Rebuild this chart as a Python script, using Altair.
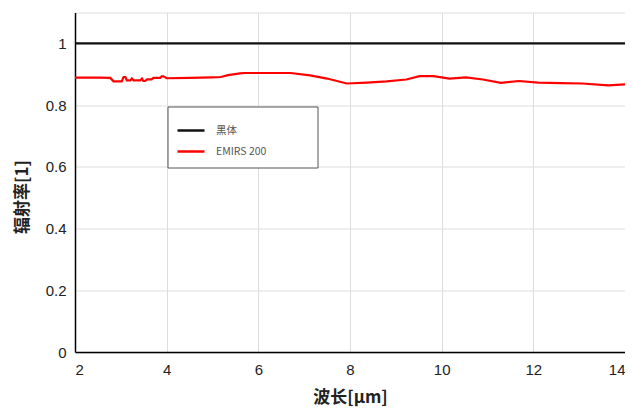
import altair as alt
import pandas as pd

# EMIRS 200 emissivity readings
emirs_x = [2.0, 2.3, 2.52, 2.77, 2.84, 3.02, 3.06, 3.10, 3.13, 3.21, 3.24, 3.28, 3.42, 3.46, 3.49,
           3.53, 3.57, 3.67, 3.71, 3.86, 3.89, 3.93, 4.0, 4.5, 5.0, 5.18, 5.34, 5.6, 5.7, 6.2, 6.7,
           7.13, 7.5, 7.93, 8.37, 8.8, 9.23, 9.52, 9.82, 10.17, 10.53, 10.9, 11.29, 11.68, 12.11,
           12.6, 13.07, 13.63, 14.0]
emirs_y = [0.889, 0.889, 0.889, 0.888, 0.877, 0.877, 0.891, 0.891, 0.880, 0.880, 0.886, 0.880, 0.880,
           0.886, 0.878, 0.878, 0.883, 0.883, 0.888, 0.888, 0.893, 0.893, 0.887, 0.888, 0.890, 0.891,
           0.897, 0.903, 0.904, 0.904, 0.904, 0.896, 0.886, 0.870, 0.873, 0.877, 0.883, 0.894, 0.894,
           0.886, 0.890, 0.883, 0.872, 0.878, 0.873, 0.871, 0.870, 0.864, 0.867]
black_x = [2.0, 14.0]
black_y = [1.0, 1.0]

series_names = ["黑体", "EMIRS 200"]
series_colors = ["#111111", "#ff0000"]

df = pd.concat([
    pd.DataFrame({"x": black_x, "y": black_y, "s": series_names[0]}),
    pd.DataFrame({"x": emirs_x, "y": emirs_y, "s": series_names[1]}),
])

lines = alt.Chart(df).mark_line(strokeWidth=2.2).encode(
    x=alt.X("x:Q", scale=alt.Scale(domain=[2, 14], nice=False),
            axis=alt.Axis(title="波长[μm]", values=[2, 4, 6, 8, 10, 12, 14], format="d",
                          titleFont="Noto Sans CJK SC", titleFontSize=17, titleFontWeight="bold",
                          titleColor="#222", titlePadding=12,
                          labelFont="Liberation Sans", labelFontSize=15, labelColor="#222",
                          labelPadding=10, ticks=False, tickSize=0,
                          domainColor="#000", domainWidth=1.5,
                          grid=True, gridColor="#dddddd")),
    y=alt.Y("y:Q", scale=alt.Scale(domain=[0, 1.1], nice=False),
            axis=alt.Axis(title="辐射率[1]", values=[0, 0.2, 0.4, 0.6, 0.8, 1], format=".1~f",
                          titleFont="Noto Sans CJK SC", titleFontSize=17, titleFontWeight="bold",
                          titleColor="#222", titlePadding=14, titleY=184,
                          labelFont="Liberation Sans", labelFontSize=15, labelColor="#222",
                          labelPadding=9, ticks=False, tickSize=0,
                          domainColor="#000", domainWidth=1.5,
                          grid=True, gridColor="#dddddd")),
    color=alt.Color("s:N", scale=alt.Scale(domain=series_names, range=series_colors),
                    legend=alt.Legend(title=None, orient="none", legendX=101, legendY=103,
                                      symbolType="stroke", symbolSize=729, symbolStrokeWidth=2.5,
                                      labelFont="Noto Sans CJK SC", labelFontSize=10.5,
                                      labelColor="#555", labelOffset=10, rowPadding=-11,
                                      padding=0)),
    order=alt.Order("x:Q"),
)

box = alt.Chart(pd.DataFrame({"k": [0]})).mark_rect(
    fill="white", stroke="#555", strokeWidth=1
).encode(x=alt.value(93), x2=alt.value(243), y=alt.value(94.5), y2=alt.value(155.5))

chart = alt.layer(lines, box).properties(
    width=550, height=339.5,
    autosize=alt.AutoSizeParams(type="none"),
    padding={"left": 67, "top": 4.5, "right": 0, "bottom": 56},
).configure_view(stroke="#555", strokeWidth=1.5).configure(background="white")

chart.save("out.html", embed_options={"renderer": "svg", "actions": False})
